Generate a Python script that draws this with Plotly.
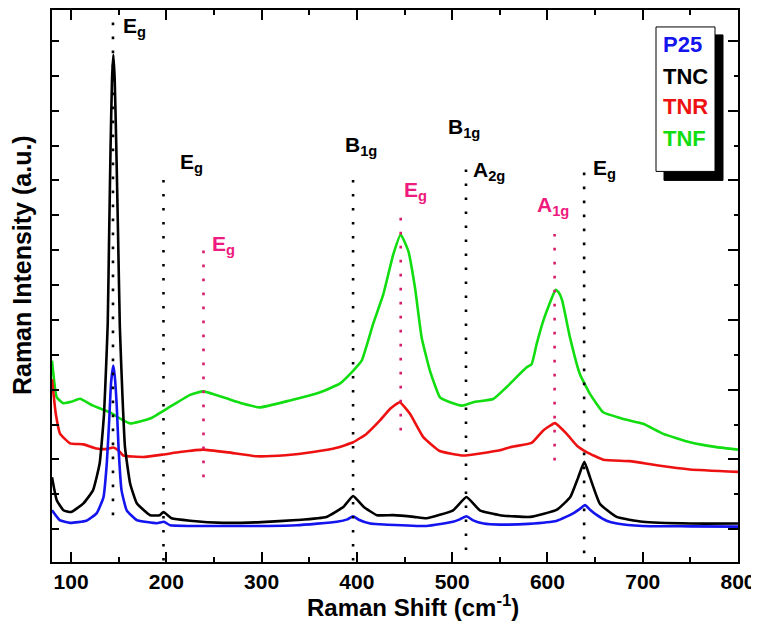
import plotly.graph_objects as go

# ---------------- data ----------------
p25_x = [80, 88, 99, 116, 127, 134, 137.5, 140, 142, 144.3, 146, 148, 150, 153, 158.4, 169, 190, 197.5, 204, 225,
         260, 300, 337, 379, 390, 396, 402, 414, 424, 473, 501, 508, 515, 522, 533, 550, 580, 610, 627, 634,
         639.5, 645, 652, 662, 673, 700, 750, 800]
p25_y = [0.54, 0.26, 0.18, 0.24, 0.46, 0.91, 1.88, 3.1, 4.2, 4.69, 4.35, 3.5, 2.25, 1.11, 0.54, 0.26, 0.17, 0.21, 0.11, 0.09,
         0.09, 0.09, 0.11, 0.21, 0.28, 0.37, 0.27, 0.16, 0.14, 0.09, 0.21, 0.28, 0.37, 0.25, 0.16, 0.13, 0.15, 0.24, 0.45, 0.58,
         0.69, 0.55, 0.40, 0.24, 0.16, 0.09, 0.08, 0.07]

tnc_x = [80, 85, 92, 100, 113, 123, 130, 134.6, 137, 138.5, 140, 141.5, 143, 144.4, 145.8, 147.3, 149.3, 151.2, 154, 156.6,
         162, 169, 183, 193, 197, 205.6, 225, 260, 300, 337, 368, 386, 396, 407, 421, 438, 460, 473, 501, 515,
         529, 550, 582, 610, 624, 632.4, 638.7, 644.6, 655, 672.6, 700, 750, 800]
tnc_y = [1.49, 0.83, 0.54, 0.49, 0.74, 1.11, 1.88, 3.3, 4.8, 5.9, 8.5, 11.0, 12.9, 13.6, 12.9, 11.2, 8.5, 5.8, 3.78, 2.35,
         1.31, 0.74, 0.40, 0.40, 0.49, 0.31, 0.24, 0.18, 0.20, 0.26, 0.35, 0.64, 0.95, 0.64, 0.40, 0.40, 0.35, 0.31, 0.54, 0.92,
         0.54, 0.40, 0.35, 0.56, 0.92, 1.49, 1.93, 1.49, 0.73, 0.35, 0.21, 0.16, 0.16]

tnr_x = [80, 81.5, 84, 88.4, 99, 113, 127, 138, 144.3, 150, 154.8, 175.8, 196.8, 214, 238.8, 265, 294.8, 325, 354, 378.8,
         396, 410, 424, 435, 445, 455.7, 469.7, 487, 511.7, 550, 560.7, 583.4, 595.6, 608, 620.2, 630.7, 641.2, 658.6, 686.6, 714.6,
         749.6, 800]
tnr_y = [4.3, 3.9, 3.3, 2.74, 2.46, 2.43, 2.31, 2.30, 2.34, 2.25, 2.11, 2.07, 2.14, 2.21, 2.28, 2.20, 2.09, 2.12, 2.21, 2.33,
         2.49, 2.73, 3.11, 3.45, 3.64, 3.31, 2.64, 2.24, 2.11, 2.26, 2.35, 2.47, 2.83, 3.04, 2.73, 2.40, 2.21, 1.99, 1.95, 1.83,
         1.71, 1.64]

tnf_x = [80, 85, 92, 100, 109.4, 123, 141, 151.4, 161.9, 183, 204, 225, 238.8, 259.8, 280, 298, 329.8, 361, 382, 396,
         405, 417, 427.7, 438.2, 446, 454, 461, 468, 476.7, 487.2, 497.7, 510.6, 522.2, 543, 557, 578.2, 583.4, 588.7, 595.6, 602.7,
         608.6, 612, 615.5, 623.7, 634, 644.6, 658.6, 679.6, 700.6, 721.6, 749.6, 777.6, 800]
tnf_y = [4.83, 3.78, 3.61, 3.65, 3.74, 3.54, 3.35, 3.17, 3.03, 3.17, 3.51, 3.85, 3.95, 3.78, 3.60, 3.49, 3.69, 3.92, 4.17, 4.54,
         4.83, 5.88, 6.73, 7.88, 8.45, 7.97, 6.92, 5.49, 4.54, 3.78, 3.64, 3.54, 3.64, 3.73, 4.07, 4.64, 4.73, 5.31, 5.97, 6.50,
         6.86, 6.78, 6.55, 5.49, 4.45, 3.88, 3.35, 3.16, 3.02, 2.73, 2.49, 2.35, 2.28]

series_names = ["P25", "TNC", "TNR", "TNF"]
series_colors = ["#1414EE", "#000000", "#EE1111", "#11DD11"]

# mode markers: position, y-extent (start, end), colour kind
mode_x = [144, 197, 239, 396, 446, 514.5, 607.5, 638.5]
mode_top = [14.54, 10.31, 8.03, 10.2, 9.2, 10.46, 8.46, 10.34]
mode_bottom = [0.4, -0.9, 1.49, -0.9, 2.83, -0.6, 1.97, -0.69]
mode_pink = [False, False, True, False, True, False, True, False]

# labels: x (left), y (top), text, pink?
label_x = [152.8, 212.3, 245.6, 385.5, 447.4, 493.9, 519.5, 586.7, 646.1]
label_y = [14.84, 10.93, 8.59, 11.41, 10.13, 11.93, 10.7, 9.7, 10.76]
label_txt = ["E<sub>g</sub>", "E<sub>g</sub>", "E<sub>g</sub>", "B<sub>1g</sub>", "E<sub>g</sub>",
             "B<sub>1g</sub>", "A<sub>2g</sub>", "A<sub>1g</sub>", "E<sub>g</sub>"]
label_pink = [False, False, True, False, True, False, False, True, False]

x_range = [80, 800]
y_range = [-0.943, 14.886]

FONT = "Liberation Sans, Arial, sans-serif"
PINK_TXT = "#EE1A7E"
PINK_DOT = "#D81B6A"

# ---------------- figure ----------------
fig = go.Figure()
xs = [p25_x, tnc_x, tnr_x, tnf_x]
ys = [p25_y, tnc_y, tnr_y, tnf_y]
for i in [3, 2, 1, 0]:
    fig.add_trace(go.Scatter(x=xs[i], y=ys[i], mode="lines", name=series_names[i],
                             line=dict(color=series_colors[i], width=2.6, shape="spline", smoothing=0.4),
                             showlegend=False))
# invisible trace for right axis
fig.add_trace(go.Scatter(x=[x_range[0]], y=[y_range[0]], yaxis="y2", mode="markers",
                         marker=dict(opacity=0), showlegend=False, hoverinfo="skip"))

shapes = []
for xv, t, b, pk in zip(mode_x, mode_top, mode_bottom, mode_pink):
    shapes.append(dict(type="line", xref="x", yref="y", x0=xv, x1=xv, y0=b, y1=t,
                       line=dict(color=PINK_DOT if pk else "#000000", width=2.6, dash="2.6px,11.4px")))

annotations = []
for xv, yv, tx, pk in zip(label_x, label_y, label_txt, label_pink):
    annotations.append(dict(x=xv, y=yv, xref="x", yref="y", text="<b>" + tx + "</b>",
                            showarrow=False, xanchor="left", yanchor="top",
                            font=dict(family=FONT, size=21, color=PINK_TXT if pk else "#000000")))

# screen pixel -> paper (page has an 8px body offset)
def px2paper_x(px):
    return (px - 52) / 686.0

def px2paper_y(py):
    return (562 - py) / 554.0

shapes.append(dict(type="rect", xref="paper", yref="paper",
                   x0=px2paper_x(664), x1=px2paper_x(723), y0=px2paper_y(179), y1=px2paper_y(33),
                   fillcolor="#000000", line=dict(color="#000000", width=1)))
shapes.append(dict(type="rect", xref="paper", yref="paper",
                   x0=px2paper_x(656), x1=px2paper_x(715), y0=px2paper_y(170), y1=px2paper_y(25),
                   fillcolor="#FFFFFF", line=dict(color="#000000", width=1)))
leg_py = [43, 75, 105, 137]
for name, col, py in zip(series_names, series_colors, leg_py):
    annotations.append(dict(x=px2paper_x(661), y=px2paper_y(py), xref="paper", yref="paper",
                            text="<b>" + name + "</b>", showarrow=False, xanchor="left", yanchor="middle",
                            font=dict(family=FONT, size=22, color=col)))

# axis titles
annotations.append(dict(x=px2paper_x(413), y=px2paper_y(606), xref="paper", yref="paper",
                        text="<b>Raman Shift (cm<sup>-1</sup>)</b>", showarrow=False,
                        xanchor="center", yanchor="middle", font=dict(family=FONT, size=24, color="#000000")))
annotations.append(dict(x=px2paper_x(22), y=px2paper_y(264), xref="paper", yref="paper",
                        text="<b>Raman Intensity (a.u.)</b>", showarrow=False, textangle=-90,
                        xanchor="center", yanchor="middle", font=dict(family=FONT, size=25, color="#000000")))

fig.update_layout(
    width=759, height=637,
    margin=dict(l=44, r=29, t=0, b=83),
    paper_bgcolor="white", plot_bgcolor="white",
    shapes=shapes, annotations=annotations,
    xaxis=dict(range=x_range, tick0=0, dtick=100, ticks="inside", ticklen=10, tickwidth=1.5,
               tickcolor="black", showline=True, linecolor="black", linewidth=2, mirror="ticks",
               showgrid=False, zeroline=False,
               minor=dict(dtick=50, tick0=0, ticks="inside", ticklen=5, tickwidth=1.5, tickcolor="black"),
               tickfont=dict(family=FONT, size=21, color="black"), tickprefix="<b>", ticksuffix="</b>"),
    yaxis=dict(range=y_range, tick0=0, dtick=1, ticks="inside", ticklen=7, tickwidth=1.5, tickcolor="black",
               showline=True, linecolor="black", linewidth=2, mirror=False, showticklabels=False,
               showgrid=False, zeroline=False),
    yaxis2=dict(range=y_range, overlaying="y", side="right", tick0=0, dtick=2, ticks="inside", ticklen=10,
                tickwidth=1.5, tickcolor="black", showline=True, linecolor="black", linewidth=2,
                showticklabels=False, showgrid=False, zeroline=False,
                minor=dict(dtick=1, tick0=0, ticks="inside", ticklen=4, tickwidth=1.5, tickcolor="black")),
)

fig.write_html("out.html")
